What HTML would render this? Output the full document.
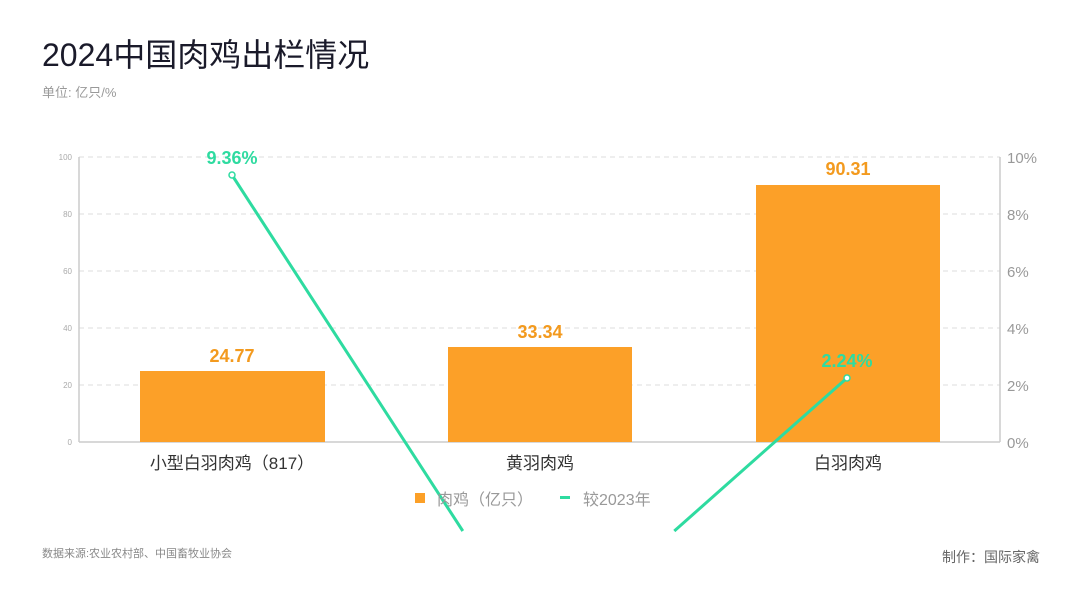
<!DOCTYPE html>
<html><head><meta charset="utf-8"><style>
html,body{margin:0;padding:0;width:1080px;height:609px;background:#fff;overflow:hidden;font-family:"Liberation Sans","Noto Sans CJK SC",sans-serif;}
svg{position:absolute;left:0;top:0;display:block}
</style></head><body>
<svg width="1080" height="609" viewBox="0 0 1080 609" font-family="Liberation Sans, Noto Sans CJK SC, sans-serif">
<text x="42" y="66" font-size="32" fill="#1a1a2a">2024中国肉鸡出栏情况</text>
<text x="42" y="97" font-size="13" fill="#999">单位: 亿只/%</text>
<g stroke="#ddd" stroke-dasharray="5,4" stroke-width="1">
<line x1="79" y1="157" x2="1000" y2="157"/><line x1="79" y1="214" x2="1000" y2="214"/>
<line x1="79" y1="271" x2="1000" y2="271"/><line x1="79" y1="328" x2="1000" y2="328"/>
<line x1="79" y1="385" x2="1000" y2="385"/>
</g>
<g stroke="#ccc" stroke-width="1.5"><line x1="79" y1="157" x2="79" y2="442"/><line x1="1000" y1="157" x2="1000" y2="442"/><line x1="79" y1="442" x2="1000" y2="442"/></g>
<g font-size="8" fill="#aaa" text-anchor="end">
<text x="72" y="160">100</text><text x="72" y="217">80</text><text x="72" y="274">60</text><text x="72" y="331">40</text><text x="72" y="388">20</text><text x="72" y="445">0</text></g>
<g font-size="15" fill="#999">
<text x="1007" y="163">10%</text><text x="1007" y="220">8%</text><text x="1007" y="277">6%</text><text x="1007" y="334">4%</text><text x="1007" y="391">2%</text><text x="1007" y="448">0%</text></g>
<g fill="#fca028">
<rect x="140" y="371" width="185" height="71"/><rect x="448" y="347" width="184" height="95"/><rect x="756" y="185" width="184" height="257"/></g>
<g font-size="18" font-weight="bold" fill="#f39a1e" text-anchor="middle">
<text x="232" y="362">24.77</text><text x="540" y="338">33.34</text><text x="848" y="175">90.31</text></g>
<g font-size="17" fill="#333" text-anchor="middle">
<text x="232" y="469">小型白羽肉鸡（817）</text><text x="540" y="469">黄羽肉鸡</text><text x="848" y="469">白羽肉鸡</text></g>
<line x1="232" y1="175" x2="462.8" y2="531" stroke="#2edba0" stroke-width="3"/>
<line x1="674.3" y1="531" x2="847" y2="378" stroke="#2edba0" stroke-width="3"/>
<circle cx="232" cy="175" r="3" fill="#fff" stroke="#2edba0" stroke-width="1.5"/>
<circle cx="847" cy="378" r="3" fill="#fff" stroke="#2edba0" stroke-width="1.5"/>
<g font-size="18" font-weight="bold" fill="#2edba0" text-anchor="middle">
<text x="232" y="164">9.36%</text><text x="847" y="367">2.24%</text></g>
<rect x="415" y="493" width="10" height="10" fill="#fca028"/>
<text x="437" y="505" font-size="16" fill="#999">肉鸡（亿只）</text>
<rect x="560" y="496" width="10" height="3" fill="#2edba0"/>
<text x="583" y="505" font-size="16" fill="#999">较2023年</text>
<text x="42" y="557" font-size="11" fill="#888">数据来源:农业农村部、中国畜牧业协会</text>
<text x="1040" y="562" font-size="14" fill="#666" text-anchor="end">制作：国际家禽</text>
</svg>
</body></html>
